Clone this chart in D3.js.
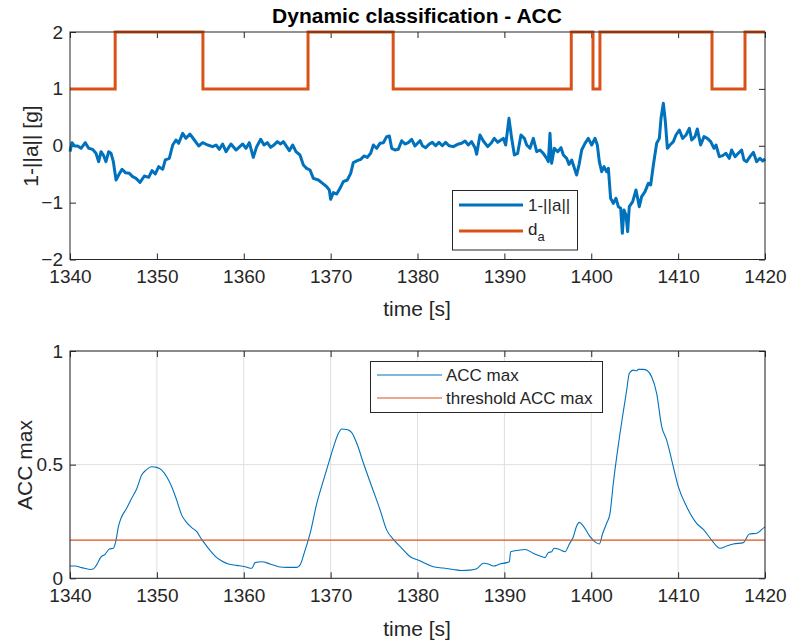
<!DOCTYPE html>
<html>
<head>
<meta charset="utf-8">
<script src="https://cdn.jsdelivr.net/npm/d3@7"></script>
<style>
  html, body { margin: 0; padding: 0; background: #fff; }
  svg { display: block; font-family: "Liberation Sans", Arial, Helvetica, sans-serif; }
</style>
</head>
<body>
<div id="chart"></div>
<script>
// ---------------- data ----------------
const accTime = [1340,1340.23,1340.5,1340.88,1341.27,1341.76,1342.15,1342.61,1342.99,1343.3,1343.57,1343.84,1344.14,1344.45,1344.72,1344.99,1345.3,1345.6,1345.99,1346.37,1346.83,1347.21,1347.6,1348.06,1348.56,1349.06,1349.44,1349.82,1350.21,1350.67,1350.97,1351.43,1351.82,1352.2,1352.51,1352.97,1353.35,1353.81,1354.31,1354.81,1355.27,1355.85,1356.42,1356.81,1357.19,1357.57,1357.96,1358.53,1359.11,1359.88,1360.26,
1360.64,1361.1,1361.49,1361.95,1362.33,1362.71,1363.1,1363.48,1363.87,1364.25,1364.56,1364.94,1365.25,1365.63,1366.01,1366.47,1366.86,1367.24,1367.63,1368.01,1368.59,1369.08,1369.54,1369.85,1370,1370.31,1370.7,1371.08,1371.46,1371.92,1372.31,1372.61,1373.07,1373.46,1373.84,1374.22,1374.61,1374.92,1375.3,1375.68,1376.07,1376.45,1376.76,1377.03,1377.41,1377.79,1378.18,1378.56,1378.94,1379.33,1379.71,1380.29,
1380.56,1380.94,1381.32,1381.71,1382.09,1382.47,1382.86,1383.24,1383.63,1384.12,1384.62,1385.08,1385.47,1385.85,1386.23,1386.62,1386.81,1387.19,1387.58,1388.08,1388.46,1388.84,1389.23,1389.61,1389.88,1390.15,1390.53,1390.84,1391.15,1391.53,1391.91,1392.3,1392.57,1392.95,1393.33,1393.72,1394.1,1394.48,1394.87,1395.06,1395.25,1395.44,1395.75,1396.13,1396.52,1396.79,1397.17,1397.44,1397.75,1398.13,1398.32,1398.59,1398.9,1399.28,1399.66,1400.05,1400.43,
1400.7,1400.93,1401.2,1401.47,1401.77,1401.97,1402.23,1402.54,1402.85,1403.12,1403.39,1403.58,1403.77,1404,1404.19,1404.38,1404.77,1405.15,1405.53,1405.8,1406.19,1406.57,1406.84,1407.15,1407.53,1407.84,1408.03,1408.3,1408.53,1408.76,1409.06,1409.45,1409.75,1410.14,1410.52,1410.91,1411.29,1411.56,1411.94,1412.21,1412.59,1412.98,1413.36,1413.75,1414.13,1414.36,1414.74,1415.13,1415.51,1415.89,1416.16,1416.55,1416.93,1417.31,1417.58,1417.89,1418.27,1418.66,1419.04,1419.42,1419.73,1420];
const accValue = [-0.104,0.054,-0.004,-0.004,-0.045,0.054,-0.045,-0.063,-0.133,-0.28,-0.104,-0.163,-0.28,-0.104,-0.133,-0.28,-0.602,-0.514,-0.414,-0.473,-0.485,-0.543,-0.573,-0.643,-0.532,-0.555,-0.438,-0.496,-0.368,-0.414,-0.25,-0.221,0.013,0.101,0.043,0.218,0.13,0.206,0.101,-0.004,0.054,0.013,-0.016,0.013,-0.063,0.031,-0.104,0.031,-0.075,0.031,-0.045,
0.054,-0.204,-0.016,0.113,0.013,0.054,-0.028,0.013,0.072,0.031,0.072,-0.016,-0.086,0.013,-0.104,-0.163,-0.338,-0.397,-0.426,-0.573,-0.602,-0.661,-0.719,-0.778,-0.942,-0.825,-0.848,-0.748,-0.631,-0.602,-0.485,-0.297,-0.262,-0.239,-0.18,-0.204,-0.133,0.013,-0.045,0.043,0.054,0.16,0.171,-0.045,-0.075,-0.063,0.089,0.031,0.054,0.113,-0.004,0.089,
0.001,-0.034,0.025,0.06,0.001,0.06,0.001,0.06,0.001,-0.016,0.025,0.043,0.083,0.013,0.072,-0.034,-0.151,0.189,0.083,-0.016,0.043,0.13,0.06,0.101,0.13,0.013,0.482,0.13,-0.163,-0.133,0.189,0.13,0.013,-0.045,0.13,-0.104,-0.075,-0.133,-0.221,-0.28,0.218,-0.309,-0.045,-0.104,-0.034,-0.163,-0.221,-0.327,-0.25,-0.426,-0.514,-0.338,-0.075,0.043,0.13,0.013,0.13,
0.013,-0.28,-0.456,-0.368,-0.456,-0.397,-0.924,-1.012,-0.924,-1.071,-1.1,-1.539,-1.129,-1.217,-1.51,-1.071,-0.983,-0.778,-1.071,-0.895,-0.807,-0.661,-0.69,-0.338,0.043,0.13,0.482,0.746,0.423,-0.045,0.013,0.072,0.189,0.277,0.13,0.189,0.306,0.101,0.16,0.294,0.013,0.16,0.13,0.072,-0.045,0.013,-0.192,-0.174,-0.133,-0.221,-0.075,-0.192,-0.133,-0.075,-0.25,-0.28,-0.192,-0.116,-0.28,-0.221,-0.268,-0.233];

// dynamic classification d_a (step changes)
const daTime  = [1340, 1345.2, 1355.3, 1367.4, 1377.2, 1397.7, 1400.2, 1401.0, 1413.9, 1417.7, 1420];
const daValue = [1, 2, 1, 2, 1, 2, 1, 2, 1, 2, 2];

// ACC max
const maxTime = [1340,1340.58,1341.34,1342.3,1342.68,1343.07,1343.53,1344.03,1344.53,1344.99,1345.3,1345.57,1345.87,1346.52,1347.1,1347.67,1348.25,1348.75,1349.4,1349.98,1350.56,1351.13,1351.71,1352.28,1352.86,1353.44,1354.01,1354.59,1355.16,1355.93,1356.7,1357.47,1358.23,1359.19,1360.15,1360.92,1361.3,1362.07,1363.03,1364,1364.96,1366.11,1366.49,1367.07,1367.64,1368.41,1369.18,1369.87,1370.4,1370.9,1371.28,1371.86,1372.43,1373.01,1373.78,1374.74,1375.7,1376.46,1377.23,1378.19,1379.15,1380.22,
1380.67,1381.82,1382.97,1384.12,1385.08,1386.04,1386.81,1387.58,1388.15,1388.73,1389.5,1390.26,1390.57,1390.72,1391.41,1392.37,1393.33,1394.1,1394.68,1395.06,1395.44,1395.71,1396.33,1396.98,1397.48,1397.94,1398.32,1398.63,1399.09,1399.86,1400.55,1400.93,1401.32,1401.77,1402.16,1402.54,1402.93,1403.31,1403.69,1404.08,1404.38,1404.84,1405.23,1405.42,1406,1406.46,1406.95,1407.53,1408.11,1408.68,1409.26,1410.02,1410.98,1412.13,1412.9,1413.86,1414.82,1415.59,1416.36,1417.51,1418.2,1419.04,1419.92,1420];
const maxValue = [0.054,0.054,0.047,0.039,0.041,0.059,0.092,0.105,0.129,0.132,0.168,0.227,0.264,0.308,0.352,0.393,0.454,0.476,0.491,0.488,0.476,0.447,0.403,0.344,0.278,0.245,0.223,0.205,0.171,0.132,0.098,0.076,0.063,0.057,0.051,0.044,0.069,0.073,0.063,0.051,0.048,0.048,0.059,0.125,0.198,0.33,0.432,0.52,0.586,0.638,0.657,0.655,0.641,0.594,0.506,0.403,0.3,0.212,0.171,0.132,0.095,0.078,
0.069,0.051,0.045,0.039,0.034,0.036,0.042,0.066,0.063,0.054,0.063,0.069,0.073,0.117,0.122,0.127,0.11,0.098,0.091,0.113,0.117,0.132,0.127,0.117,0.151,0.183,0.23,0.246,0.23,0.183,0.157,0.151,0.198,0.242,0.286,0.418,0.535,0.638,0.733,0.828,0.902,0.916,0.913,0.919,0.919,0.913,0.887,0.814,0.667,0.608,0.52,0.403,0.315,0.242,0.215,0.168,0.132,0.142,0.151,0.157,0.195,0.198,0.224,0.226];

const thresholdAccMax = 0.168;

const xTicks = [1340,1350,1360,1370,1380,1390,1400,1410,1420];
const yTicksTop = [-2,-1,0,1,2];
const yTicksBottom = [0,0.5,1];

// ---------------- drawing ----------------
const W = 790, H = 641;
const blue = "#0072BD", orange = "#D95319", axisCol = "#262626";
const tickFont = 19, labelFont = 21, legendFont = 17;

const svg = d3.select("#chart").append("svg").attr("width", W).attr("height", H);

const x = d3.scaleLinear().domain([1340, 1420]).range([70, 765]);
const yTop = d3.scaleLinear().domain([-2, 2]).range([259.5, 32]);
const yBot = d3.scaleLinear().domain([0, 1]).range([578.3, 351]);

function drawAxes(y, yTicks, yFmt, grid) {
  const [y0, y1] = y.range();
  const g = svg.append("g");
  if (grid) {
    g.append("g").selectAll("line").data(xTicks).join("line")
      .attr("x1", d => x(d)).attr("x2", d => x(d)).attr("y1", y1).attr("y2", y0)
      .attr("stroke", "#dfdfdf").attr("stroke-width", 1);
    g.append("g").selectAll("line").data(yTicks).join("line")
      .attr("y1", d => y(d)).attr("y2", d => y(d)).attr("x1", 70).attr("x2", 765)
      .attr("stroke", "#dfdfdf").attr("stroke-width", 1);
  }
  const bottom = d3.axisBottom(x).tickValues(xTicks).tickFormat(d3.format("d"))
    .tickSizeInner(-6).tickSizeOuter(0).tickPadding(10);
  const top = d3.axisTop(x).tickValues(xTicks).tickFormat("").tickSizeInner(-6).tickSizeOuter(0);
  const left = d3.axisLeft(y).tickValues(yTicks).tickFormat(yFmt)
    .tickSizeInner(-6).tickSizeOuter(0).tickPadding(7);
  const right = d3.axisRight(y).tickValues(yTicks).tickFormat("").tickSizeInner(-6).tickSizeOuter(0);
  const ax = [
    g.append("g").attr("transform", `translate(0,${y0})`).call(bottom),
    g.append("g").attr("transform", `translate(0,${y1})`).call(top),
    g.append("g").attr("transform", `translate(70,0)`).call(left),
    g.append("g").attr("transform", `translate(765,0)`).call(right)
  ];
  ax.forEach(a => {
    a.select(".domain").remove();
    a.selectAll("line").attr("stroke", axisCol).attr("stroke-width", 1);
    a.selectAll("text").attr("fill", axisCol).attr("font-size", tickFont)
      .attr("font-family", "'Liberation Sans', Arial, sans-serif");
  });
  return g;
}
function drawBox(y) {
  const [y0, y1] = y.range();
  svg.append("rect").attr("x", 70).attr("y", y1).attr("width", 695).attr("height", y0 - y1)
    .attr("fill", "none").attr("stroke", axisCol).attr("stroke-width", 1);
}

// ---- top plot ----
drawAxes(yTop, yTicksTop, d3.format("d"), false);

const lineTop = d3.line().x(d => x(d[0])).y(d => yTop(d[1]));
svg.append("path").datum(accTime.map((t, i) => [t, accValue[i]]))
  .attr("d", lineTop).attr("fill", "none").attr("stroke", blue)
  .attr("stroke-width", 3).attr("stroke-linejoin", "round");
svg.append("path").datum(daTime.map((t, i) => [t, daValue[i]]))
  .attr("d", lineTop.curve(d3.curveStepAfter)).attr("fill", "none").attr("stroke", orange)
  .attr("stroke-width", 3);
drawBox(yTop);

svg.append("text").attr("x", 417).attr("y", 22.5).attr("text-anchor", "middle")
  .attr("font-weight", "bold").attr("font-size", labelFont).attr("fill", "#000")
  .text("Dynamic classification - ACC");
svg.append("text").attr("transform", "translate(38,146) rotate(-90)").attr("text-anchor", "middle")
  .attr("font-size", labelFont).attr("fill", axisCol).text("1-||a|| [g]");
svg.append("text").attr("x", 417).attr("y", 315.5).attr("text-anchor", "middle")
  .attr("font-size", labelFont).attr("fill", axisCol).text("time [s]");

// top legend
const lg1 = svg.append("g");
lg1.append("rect").attr("x", 452.5).attr("y", 190.5).attr("width", 125).attr("height", 59.5)
  .attr("fill", "#fff").attr("stroke", axisCol).attr("stroke-width", 1);
lg1.append("line").attr("x1", 459).attr("x2", 523).attr("y1", 205).attr("y2", 205)
  .attr("stroke", blue).attr("stroke-width", 3);
lg1.append("line").attr("x1", 459).attr("x2", 523).attr("y1", 231).attr("y2", 231)
  .attr("stroke", orange).attr("stroke-width", 3);
lg1.append("text").attr("x", 528).attr("y", 211).attr("font-size", legendFont).attr("fill", axisCol).text("1-||a||");
const t2 = lg1.append("text").attr("x", 528).attr("y", 235).attr("font-size", legendFont).attr("fill", axisCol);
t2.append("tspan").text("d");
t2.append("tspan").attr("dy", 6).attr("font-size", 13).text("a");

// ---- bottom plot ----
drawAxes(yBot, yTicksBottom, d => d === 0.5 ? "0.5" : d3.format("d")(d), true);
const lineBot = d3.line().x(d => x(d[0])).y(d => yBot(d[1]));
svg.append("path").datum(maxTime.map((t, i) => [t, maxValue[i]]))
  .attr("d", lineBot.curve(d3.curveMonotoneX)).attr("fill", "none").attr("stroke", blue)
  .attr("stroke-width", 1.1);
svg.append("line").attr("x1", x(1340)).attr("x2", x(1420))
  .attr("y1", yBot(thresholdAccMax)).attr("y2", yBot(thresholdAccMax))
  .attr("stroke", orange).attr("stroke-width", 1.1);
drawBox(yBot);

svg.append("text").attr("transform", "translate(32,465) rotate(-90)").attr("text-anchor", "middle")
  .attr("font-size", labelFont).attr("fill", axisCol).text("ACC max");
svg.append("text").attr("x", 417).attr("y", 635.5).attr("text-anchor", "middle")
  .attr("font-size", labelFont).attr("fill", axisCol).text("time [s]");

// bottom legend
const lg2 = svg.append("g");
lg2.append("rect").attr("x", 370.5).attr("y", 361.5).attr("width", 232).attr("height", 51)
  .attr("fill", "#fff").attr("stroke", axisCol).attr("stroke-width", 1);
lg2.append("line").attr("x1", 377).attr("x2", 442).attr("y1", 375).attr("y2", 375)
  .attr("stroke", blue).attr("stroke-width", 1.1);
lg2.append("line").attr("x1", 377).attr("x2", 442).attr("y1", 398).attr("y2", 398)
  .attr("stroke", orange).attr("stroke-width", 1.1);
lg2.append("text").attr("x", 446).attr("y", 381).attr("font-size", legendFont).attr("fill", axisCol).text("ACC max");
lg2.append("text").attr("x", 446).attr("y", 404).attr("font-size", legendFont).attr("fill", axisCol).text("threshold ACC max");
</script>
</body>
</html>
